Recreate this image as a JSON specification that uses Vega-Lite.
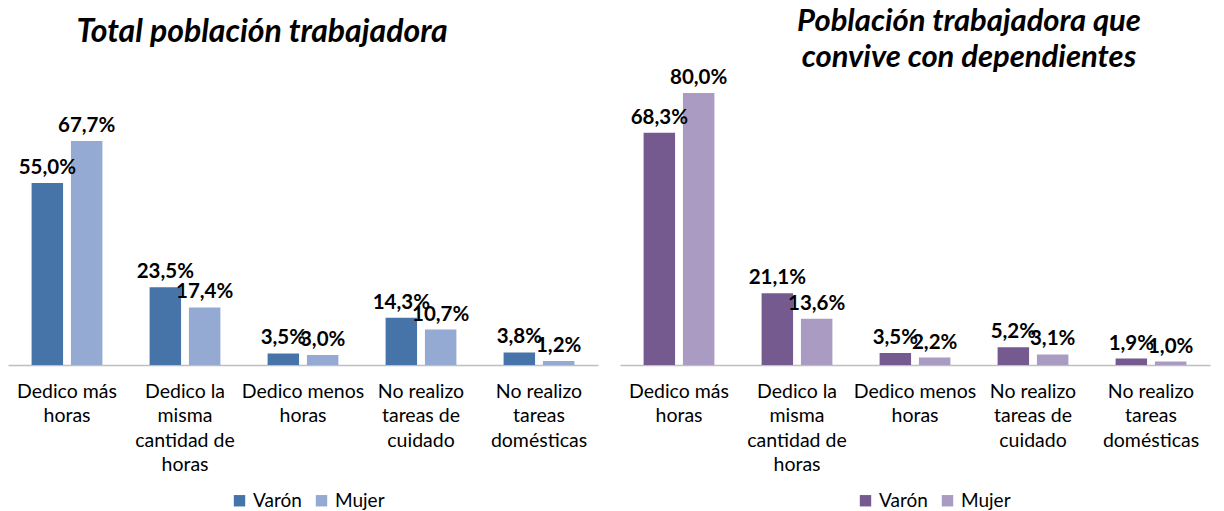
{
  "$schema": "https://vega.github.io/schema/vega-lite/v6.json",
  "padding": {"left": 8, "top": 6, "right": 5, "bottom": 0},
  "config": {
    "locale": {"number": {"decimal": ",", "thousands": ".", "grouping": [3], "currency": ["", " €"]}},
    "view": {"stroke": null},
    "font": "Lato",
    "title": {"font": "Lato", "fontSize": 31, "fontStyle": "italic", "fontWeight": "bold", "color": "#000000", "lineHeight": 36},
    "axis": {"labelFont": "Lato", "labelColor": "#000000"},
    "legend": {"labelFont": "Lato", "labelColor": "#000000"}
  },
  "datasets": {
    "total": [
      {"cat": "Dedico más horas", "sexo": "Varón", "v": 0.550},
      {"cat": "Dedico más horas", "sexo": "Mujer", "v": 0.677},
      {"cat": "Dedico la misma cantidad de horas", "sexo": "Varón", "v": 0.235},
      {"cat": "Dedico la misma cantidad de horas", "sexo": "Mujer", "v": 0.174},
      {"cat": "Dedico menos horas", "sexo": "Varón", "v": 0.035},
      {"cat": "Dedico menos horas", "sexo": "Mujer", "v": 0.030},
      {"cat": "No realizo tareas de cuidado", "sexo": "Varón", "v": 0.143},
      {"cat": "No realizo tareas de cuidado", "sexo": "Mujer", "v": 0.107},
      {"cat": "No realizo tareas domésticas", "sexo": "Varón", "v": 0.038},
      {"cat": "No realizo tareas domésticas", "sexo": "Mujer", "v": 0.012}
    ],
    "dep": [
      {"cat": "Dedico más horas", "sexo": "Varón", "v": 0.683},
      {"cat": "Dedico más horas", "sexo": "Mujer", "v": 0.800},
      {"cat": "Dedico la misma cantidad de horas", "sexo": "Varón", "v": 0.211},
      {"cat": "Dedico la misma cantidad de horas", "sexo": "Mujer", "v": 0.136},
      {"cat": "Dedico menos horas", "sexo": "Varón", "v": 0.035},
      {"cat": "Dedico menos horas", "sexo": "Mujer", "v": 0.022},
      {"cat": "No realizo tareas de cuidado", "sexo": "Varón", "v": 0.052},
      {"cat": "No realizo tareas de cuidado", "sexo": "Mujer", "v": 0.031},
      {"cat": "No realizo tareas domésticas", "sexo": "Varón", "v": 0.019},
      {"cat": "No realizo tareas domésticas", "sexo": "Mujer", "v": 0.010}
    ]
  },
  "spacing": 22,
  "bounds": "flush",
  "resolve": {"scale": {"color": "independent", "y": "independent"}},
  "hconcat": [
    {
      "width": 590,
      "height": 272,
      "title": {"text": "Total población trabajadora", "fontSize": 32, "offset": 44, "dx": -41, "anchor": "middle"},
      "data": {"name": "total"},
      "encoding": {
        "x": {
          "field": "cat", "type": "nominal",
          "sort": ["Dedico más horas", "Dedico la misma cantidad de horas", "Dedico menos horas", "No realizo tareas de cuidado", "No realizo tareas domésticas"],
          "scale": {"paddingInner": 0.4, "paddingOuter": 0.2},
          "axis": {
            "title": null, "labelAngle": 0, "ticks": false, "domainColor": "#BFBFBF", "domainWidth": 1.5,
            "labelFontSize": 19.5, "labelPadding": 17, "labelLineHeight": 24.5, "labelLimit": 0,
            "labelExpr": "datum.label == 'Dedico más horas' ? ['Dedico más', 'horas'] : datum.label == 'Dedico la misma cantidad de horas' ? ['Dedico la', 'misma', 'cantidad de', 'horas'] : datum.label == 'Dedico menos horas' ? ['Dedico menos', 'horas'] : datum.label == 'No realizo tareas de cuidado' ? ['No realizo', 'tareas de', 'cuidado'] : ['No realizo', 'tareas', 'domésticas']"
          }
        },
        "xOffset": {"field": "sexo", "type": "nominal", "sort": ["Varón", "Mujer"], "scale": {"paddingInner": 0.2}},
        "y": {"field": "v", "type": "quantitative", "scale": {"domain": [0, 0.822]}, "axis": null}
      },
      "layer": [
        {
          "mark": {"type": "bar"},
          "encoding": {
            "color": {
              "field": "sexo", "type": "nominal", "sort": ["Varón", "Mujer"],
              "scale": {"domain": ["Varón", "Mujer"], "range": ["#4673A8", "#95AAD3"]},
              "legend": {"orient": "none", "legendX": 222, "legendY": 398, "title": null, "direction": "horizontal", "symbolType": "square", "symbolSize": 130, "symbolStrokeWidth": 0, "labelFontSize": 19, "columnPadding": 10, "labelOffset": 4}
            }
          }
        },
        {
          "mark": {"type": "text", "baseline": "bottom", "dy": -5, "fontWeight": "bold", "fontSize": 20.5, "color": "#000000"},
          "encoding": {"text": {"field": "v", "type": "quantitative", "format": ".1%"}}
        }
      ]
    },
    {
      "width": 590,
      "height": 272,
      "title": {"text": ["Población trabajadora que", "convive con dependientes"], "offset": -6, "dx": 54, "anchor": "middle"},
      "data": {"name": "dep"},
      "encoding": {
        "x": {
          "field": "cat", "type": "nominal",
          "sort": ["Dedico más horas", "Dedico la misma cantidad de horas", "Dedico menos horas", "No realizo tareas de cuidado", "No realizo tareas domésticas"],
          "scale": {"paddingInner": 0.4, "paddingOuter": 0.2},
          "axis": {
            "title": null, "labelAngle": 0, "ticks": false, "domainColor": "#BFBFBF", "domainWidth": 1.5,
            "labelFontSize": 19.5, "labelPadding": 17, "labelLineHeight": 24.5, "labelLimit": 0,
            "labelExpr": "datum.label == 'Dedico más horas' ? ['Dedico más', 'horas'] : datum.label == 'Dedico la misma cantidad de horas' ? ['Dedico la', 'misma', 'cantidad de', 'horas'] : datum.label == 'Dedico menos horas' ? ['Dedico menos', 'horas'] : datum.label == 'No realizo tareas de cuidado' ? ['No realizo', 'tareas de', 'cuidado'] : ['No realizo', 'tareas', 'domésticas']"
          }
        },
        "xOffset": {"field": "sexo", "type": "nominal", "sort": ["Varón", "Mujer"], "scale": {"paddingInner": 0.2}},
        "y": {"field": "v", "type": "quantitative", "scale": {"domain": [0, 0.8]}, "axis": null}
      },
      "layer": [
        {
          "mark": {"type": "bar"},
          "encoding": {
            "color": {
              "field": "sexo", "type": "nominal", "sort": ["Varón", "Mujer"],
              "scale": {"domain": ["Varón", "Mujer"], "range": ["#755A8F", "#A99BC1"]},
              "legend": {"orient": "none", "legendX": 236, "legendY": 398, "title": null, "direction": "horizontal", "symbolType": "square", "symbolSize": 130, "symbolStrokeWidth": 0, "labelFontSize": 19, "columnPadding": 10, "labelOffset": 4}
            }
          }
        },
        {
          "mark": {"type": "text", "baseline": "bottom", "dy": -5, "fontWeight": "bold", "fontSize": 20.5, "color": "#000000"},
          "encoding": {"text": {"field": "v", "type": "quantitative", "format": ".1%"}}
        }
      ]
    }
  ]
}
